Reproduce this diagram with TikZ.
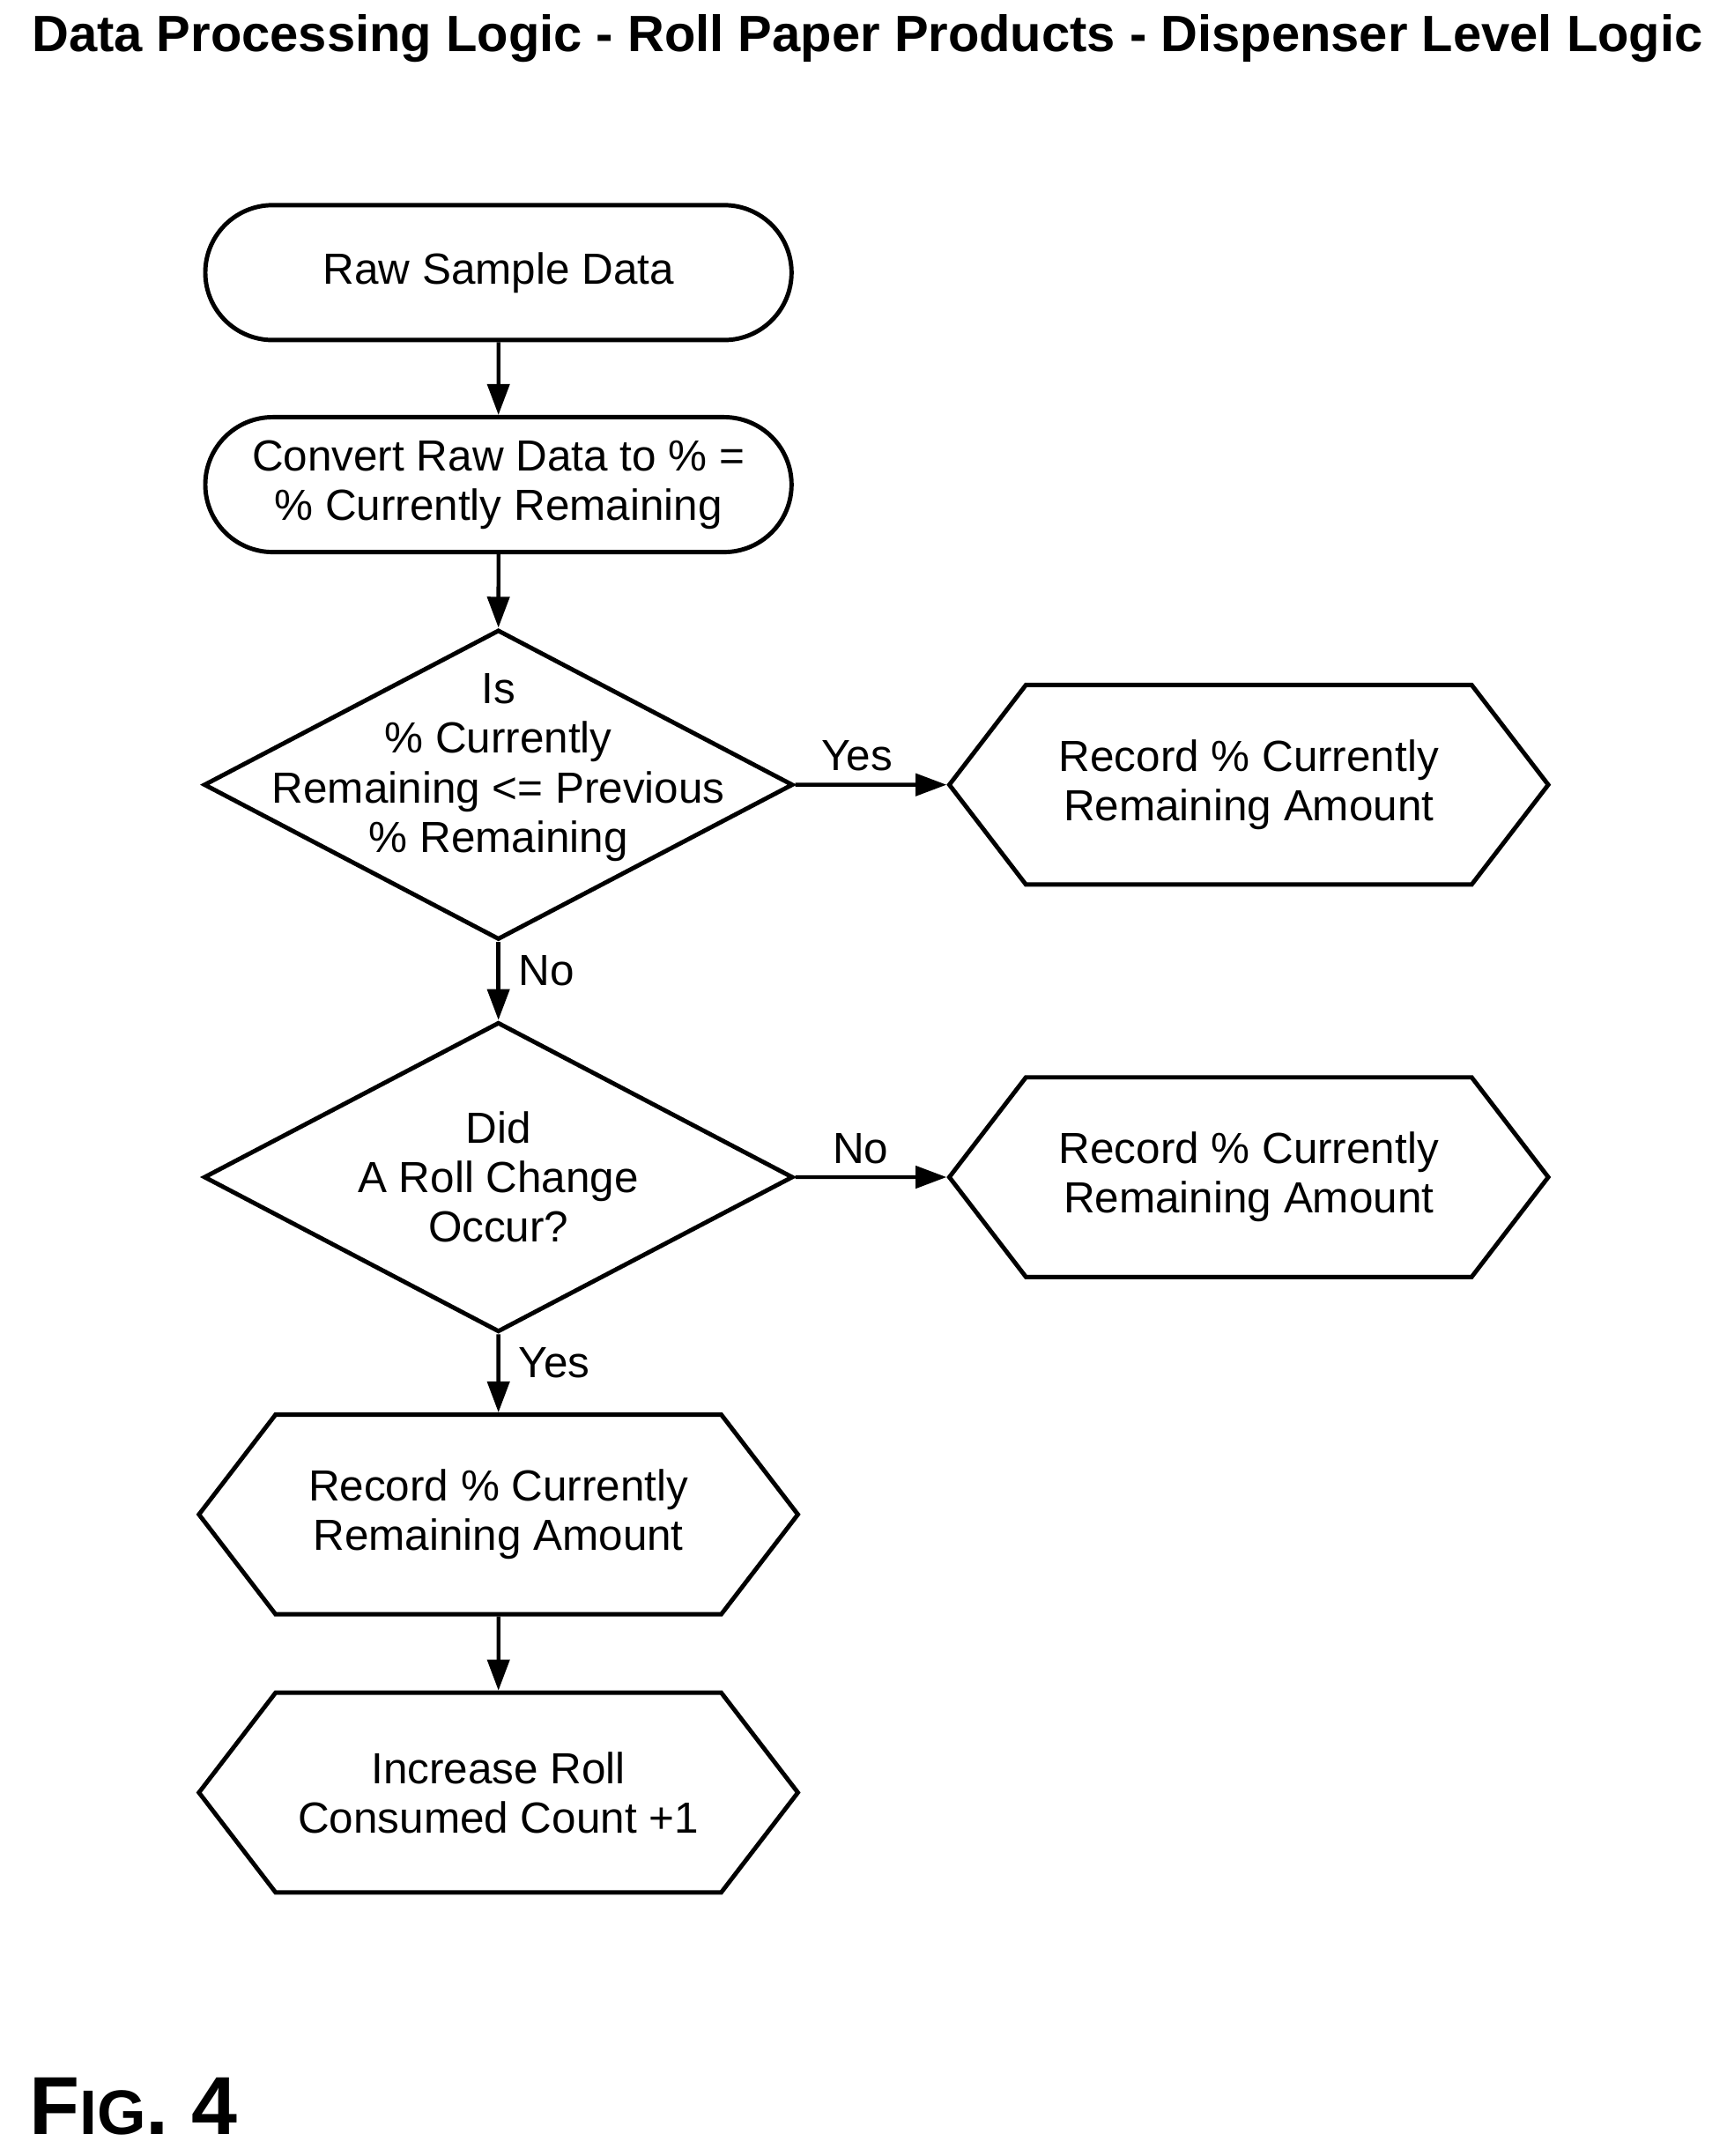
\documentclass[tikz,border=0pt]{standalone}
\usepackage{fontspec}
\setmainfont{Liberation Sans}
\usetikzlibrary{shapes.geometric,shapes.misc,shapes.symbols,arrows.meta,positioning}
\tikzset{
	every node/.style={font=\fontsize{18}{20.5}\selectfont, align=center},
	terminal/.style={draw, rounded rectangle, line width=1.8pt, minimum width=8.75cm, minimum height=1.96cm},
	decision/.style={draw, diamond, line width=1.8pt, minimum width=8.56cm, minimum height=4.5cm, inner sep=0pt},
	record/.style={draw, signal, signal to=east and west, signal pointer angle=105, line width=1.8pt, minimum width=8.7cm, minimum height=2.9cm, inner sep=0pt},
	flow/.style={line width=1.6pt, -{Triangle[length=0.45cm,width=0.32cm]}},
	branch/.style={font=\fontsize{18}{21}\selectfont}
}
\begin{document}
\begin{tikzpicture}
\useasboundingbox (0,0) rectangle (25.08,-31.32);
\node[font=\fontsize{21.1}{24}\selectfont\bfseries] (title) at (12.6,-0.56) {Data Processing Logic - Roll Paper Products - Dispenser Level Logic};

% main column
\node[terminal] (raw) at (7.24,-3.96) {Raw Sample Data};
\node[terminal] (convert) at (7.24,-7.04) {Convert Raw Data to \% =\\\% Currently Remaining};
\node[decision, label={[align=center, yshift=0.25cm]center:Is\\\% Currently\\Remaining <= Previous\\\% Remaining}] (less) at (7.24,-11.4) {};
\node[decision, label={[align=center]center:Did\\A Roll Change\\Occur?}] (change) at (7.24,-17.1) {};
\node[record] (recordC) at (7.24,-22) {Record \% Currently\\Remaining Amount};
\node[record] (increase) at (7.24,-26.04) {Increase Roll\\Consumed Count +1};

% side branches
\node[record] (recordA) at (18.14,-11.4) {Record \% Currently\\Remaining Amount};
\node[record] (recordB) at (18.14,-17.1) {Record \% Currently\\Remaining Amount};

\draw[flow] (raw) -- (convert);
\draw[flow] (convert) -- (less);
\draw[flow] (less) -- node[branch, right, xshift=0.15cm, yshift=0.15cm] {No} (change);
\draw[flow] (change) -- node[branch, right, xshift=0.15cm, yshift=0.15cm] {Yes} (recordC);
\draw[flow] (recordC) -- (increase);
\draw[flow] (less) -- node[branch, above, xshift=-0.2cm, yshift=0.05cm] {Yes} (recordA);
\draw[flow] (change) -- node[branch, above, xshift=-0.15cm, yshift=0.05cm] {No} (recordB);

\node[font=\fontsize{34}{36}\selectfont\bfseries, anchor=west] (fig) at (0.3,-30.6) {F{\fontsize{26}{30}\selectfont IG}. 4};
\end{tikzpicture}
\end{document}
